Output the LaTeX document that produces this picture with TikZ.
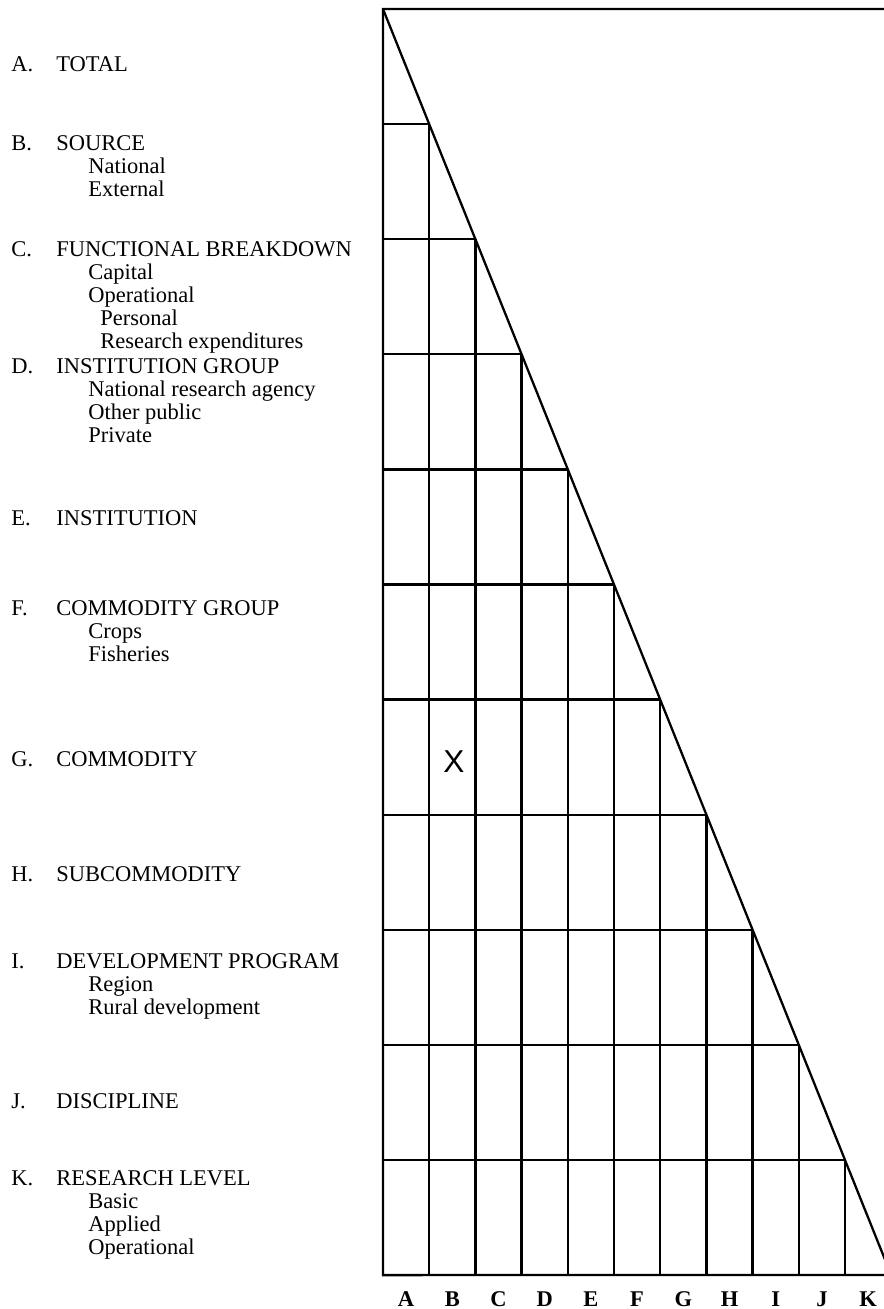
\documentclass[tikz,border=0pt]{standalone}
\usepackage{fontspec}
\setmainfont{Liberation Serif}
\newfontfamily\marksans{Liberation Sans}
\usetikzlibrary{calc}
\newcommand{\catfont}{\fontsize{12.8pt}{13.1pt}\selectfont}
\newcommand{\subi}{\hspace*{0.64cm}}
\newcommand{\subii}{\hspace*{0.88cm}}
\newcommand{\stack}[1]{\begin{tabular}[t]{@{}l@{}}#1\end{tabular}}
\newcommand{\cw}{46.2}
\newcommand{\rh}{115.1}
\tikzset{
rule/.style={line width=1.3pt,draw=black},
letter/.style={anchor=base west,inner sep=0pt,font=\catfont},
head/.style={anchor=base west,inner sep=0pt,font=\catfont},
collabel/.style={anchor=base,inner sep=0pt,font=\catfont\bfseries},
cellmark/.style={anchor=base,inner sep=0pt,font=\marksans\fontsize{18pt}{19pt}\selectfont}}

\begin{document}
\begin{tikzpicture}[x=0.02cm,y=-0.02cm]
\useasboundingbox (0,0) rectangle (884,1309);
\coordinate (tl) at (383,9);
\coordinate (bl) at ($(tl)+(0,11*\rh)$);
% triangular grid, cut at the right edge like the original
\begin{scope}
\clip (0,0) rectangle (884,1309);
\draw[rule] (884,9)--(tl)--(bl)--(884,1275);
\draw[rule] (tl)--($(tl)+(11*\cw,11*\rh)$);
\foreach \i in {1,...,10}{
  \draw[rule] ($(tl)+(0,\i*\rh)$)--($(tl)+(\i*\cw,\i*\rh)$);
  \draw[rule] ($(tl)+(\i*\cw,\i*\rh)$)--($(bl)+(\i*\cw,0)$);
}
\end{scope}
\foreach \j/\l in {1/A,2/B,3/C,4/D,5/E,6/F,7/G,8/H,9/I,10/J,11/K}
  \node[collabel] (c\l) at ($(bl)+({(\j-0.5)*\cw},31)$) {\l};
\node[cellmark] (x) at (454,772) {X};

\node[letter] (lA) at (11,71) {A.};
\node[head] (hA) at (56,71) {TOTAL};
\node[letter] (lB) at (11,150) {B.};
\node[head] (hB) at (56,150) {\stack{SOURCE\\\subi National\\\subi External}};
\node[letter] (lC) at (11,256) {C.};
\node[head] (hC) at (56,256) {\stack{FUNCTIONAL BREAKDOWN\\\subi Capital\\\subi Operational\\\subii Personal\\\subii Research expenditures}};
\node[letter] (lD) at (11,373) {D.};
\node[head] (hD) at (56,373) {\stack{INSTITUTION GROUP\\\subi National research agency\\\subi Other public\\\subi Private}};
\node[letter] (lE) at (11,525) {E.};
\node[head] (hE) at (56,525) {INSTITUTION};
\node[letter] (lF) at (11,615) {F.};
\node[head] (hF) at (56,615) {\stack{COMMODITY GROUP\\\subi Crops\\\subi Fisheries}};
\node[letter] (lG) at (11,766) {G.};
\node[head] (hG) at (56,766) {COMMODITY};
\node[letter] (lH) at (11,881) {H.};
\node[head] (hH) at (56,881) {SUBCOMMODITY};
\node[letter] (lI) at (11,968) {I.};
\node[head] (hI) at (56,968) {\stack{DEVELOPMENT PROGRAM\\\subi Region\\\subi Rural development}};
\node[letter] (lJ) at (11,1108) {J.};
\node[head] (hJ) at (56,1108) {DISCIPLINE};
\node[letter] (lK) at (11,1185) {K.};
\node[head] (hK) at (56,1185) {\stack{RESEARCH LEVEL\\\subi Basic\\\subi Applied\\\subi Operational}};
\end{tikzpicture}
\end{document}
